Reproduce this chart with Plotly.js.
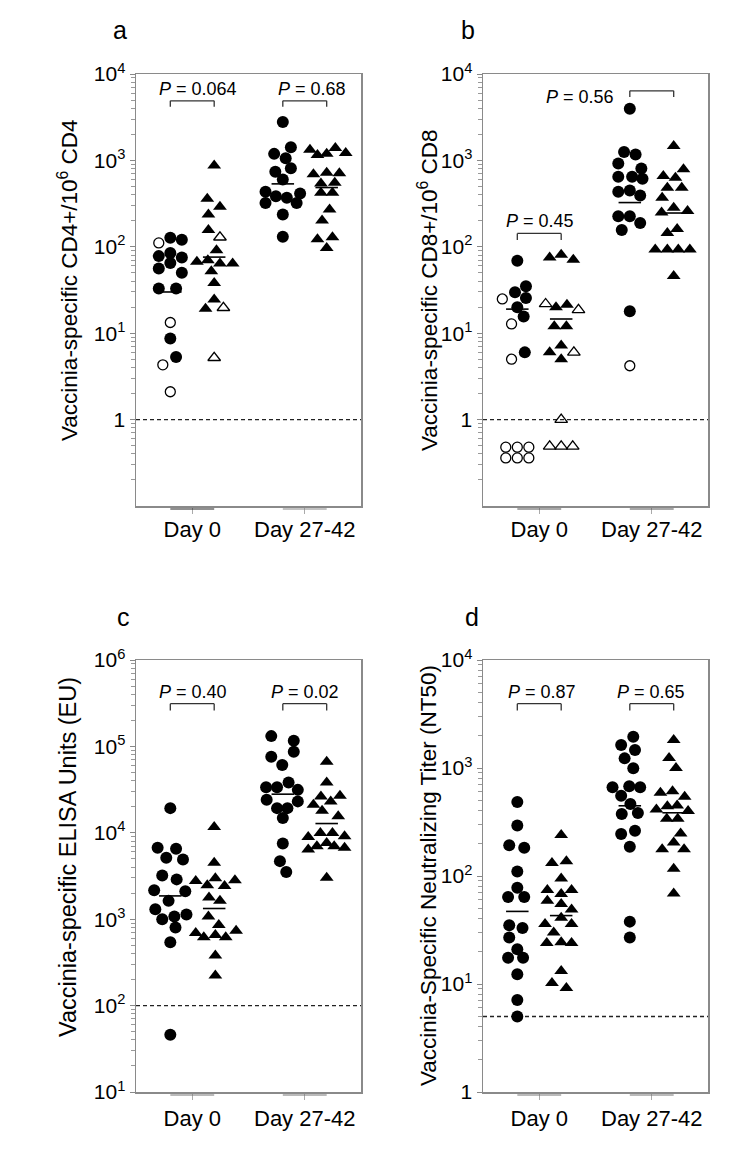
<!DOCTYPE html>
<html><head><meta charset="utf-8">
<script src="https://cdn.plot.ly/plotly-3.0.1.min.js"></script>
<style>html,body{margin:0;padding:0;background:#fff}</style>
</head><body><div id="chart" style="width:750px;height:1162px"></div>
<script>
// ---------------- DATA ----------------
const groupLabels = ['Day 0', 'Day 27-42'];

// Panel a : CD4
const a_d0_circ      = [111,127,121,78,85,75,65,56,50,33,33,13.3,8.7,5.3,4.3,2.1];
const a_d0_circ_open = [1,0,0,0,0,0,0,0,0,0,0,1,0,0,1,1];
const a_d0_circ_jit  = [-1,0,1,-1,0,1,0,-1,1,-1,0.5,0,0,0.5,-0.65,0];
const a_d0_tri       = [871,359,290,236,156,129,91,67,70,64,64,52,38,24.6,19.2,19.7,5.2];
const a_d0_tri_open  = [0,0,0,0,0,1,0,0,0,0,0,0,0,0,0,1,1];
const a_d0_tri_jit   = [0,-0.6,0.5,-0.5,-0.5,0.5,0.2,-1.5,-0.55,0.5,1.6,-0.25,0,0,-0.75,0.8,0];
const a_d27_circ     = [2780,1420,1190,1060,810,740,600,433,414,385,370,322,322,237,131];
const a_d27_circ_open= [0,0,0,0,0,0,0,0,0,0,0,0,0,0,0];
const a_d27_circ_jit = [0,0.7,-0.75,0.25,0.7,-0.65,0,-1.5,1.5,-0.6,0.35,-1.5,1.2,0,0];
const a_d27_tri      = [1325,1157,1190,1390,1215,690,720,708,540,551,421,421,270,202,122,129,97];
const a_d27_tri_open = [0,0,0,0,0,0,0,0,0,0,0,0,0,0,0,0,0];
const a_d27_tri_jit  = [-1.45,-0.8,0,0.75,1.65,-1.15,0,1.1,-0.5,0.7,-0.5,0.5,0.25,-0.4,-0.8,0.5,0];
const a_medians      = [30, 76, 535, 485];   // d0 circ, d0 tri, d27 circ, d27 tri
const a_threshold    = 1;
const a_pvals        = ['0.064', '0.68'];

// Panel b : CD8
const b_d0_circ      = [69,35,29.7,25.5,24.9,20,15.6,12.8,6.0,5.0,0.48,0.48,0.48,0.36,0.36,0.36];
const b_d0_circ_open = [0,0,0,0,1,0,0,1,0,1,1,1,1,1,1,1];
const b_d0_circ_jit  = [0,0.75,-0.2,0.75,-1.3,0,0.55,-0.5,0.65,-0.5,-1,0,1,-1,0,1];
const b_d0_tri       = [75,81,71,21.8,20,21.4,18.6,12,12,6.0,7.2,5.0,6.0,1.0,0.49,0.49,0.49];
const b_d0_tri_open  = [0,0,0,1,0,0,1,0,0,0,0,0,1,1,1,1,1];
const b_d0_tri_jit   = [-1,0,1.05,-1.35,-0.45,0.5,1.5,-0.6,0.45,-1,0,0,1.1,0,-1,0,1];
const b_d27_circ     = [3960,1250,1172,922,807,646,646,612,433,449,393,226,226,189,156,17.9,4.2];
const b_d27_circ_open= [0,0,0,0,0,0,0,0,0,0,0,0,0,0,0,0,1];
const b_d27_circ_jit = [0,-0.5,0.5,-1,1,-1,0.2,1.1,-1,0,0.9,-1,0,0.9,-0.7,0,0];
const b_d27_tri      = [1466,790,662,628,482,482,370,284,260,249,161,144,93,93,93,93,46];
const b_d27_tri_open = [0,0,0,0,0,0,0,0,0,0,0,0,0,0,0,0,0];
const b_d27_tri_jit  = [0,0.85,-0.9,0.15,-0.55,0.7,-1,0,1.2,-1.05,0.3,-0.55,-1.6,-0.55,0.4,1.4,0];
const b_medians      = [19, 14.6, 325, 246];
const b_threshold    = 1;
const b_pvals        = ['0.45', '0.56'];

// Panel c : ELISA
const c_d0_circ      = [19300,6700,6530,5140,4910,3210,2890,2160,2100,1630,1306,1075,1133,1000,803,540,46];
const c_d0_circ_open = [0,0,0,0,0,0,0,0,0,0,0,0,0,0,0,0,0];
const c_d0_circ_jit  = [0,-1.1,0.5,-0.35,1.1,-0.7,0.55,-1.4,1.3,-0.15,-1.3,0.35,1.4,-0.7,0.45,0,0];
const c_d0_tri       = [11700,4500,2770,2470,2970,2420,2820,1780,1630,1075,855,692,617,655,617,735,379,223];
const c_d0_tri_open  = [0,0,0,0,0,0,0,0,0,0,0,0,0,0,0,0,0,0];
const c_d0_tri_jit   = [0,0,-1.6,-0.6,0.1,0.9,1.8,-0.45,0.5,-0.5,0.4,-1.6,-0.9,0.1,1.0,1.9,0.1,0.1];
const c_d27_circ     = [131500,116000,86800,76000,61000,33700,33700,38100,31400,24100,23100,19300,19300,14800,7500,4700,3510];
const c_d27_circ_open= [0,0,0,0,0,0,0,0,0,0,0,0,0,0,0,0,0];
const c_d27_circ_jit = [-1,0.95,0.95,-1,-0.05,-1.45,-0.5,0.5,1.3,-1.4,1.3,-0.5,0.4,0,0,-0.25,0.3];
const c_d27_tri      = [66500,38100,26300,26800,21100,23000,18000,15500,8960,9950,9950,9120,7000,7640,7000,6400,6700,3020];
const c_d27_tri_open = [0,0,0,0,0,0,0,0,0,0,0,0,0,0,0,0,0,0];
const c_d27_tri_jit  = [0,0,-0.5,1.15,-1.15,0.35,-0.4,1.0,-1.6,-0.55,0.5,1.55,-0.85,0,0.65,-1.6,1.55,0];
const c_medians      = [1860, 1330, 28000, 12800];
const c_threshold    = 100;
const c_pvals        = ['0.40', '0.02'];

// Panel d : Neutralizing titer
const d_d0_circ      = [485,293,193,183,110,78,64,64,35,33,27,21,17.5,17.5,12.3,7.1,5];
const d_d0_circ_open = [0,0,0,0,0,0,0,0,0,0,0,0,0,0,0,0,0];
const d_d0_circ_jit  = [0,0,-0.7,0.6,0,0,-0.8,0.6,-0.7,0.45,-0.7,0,-0.8,0.5,0,0,0];
const d_d0_tri       = [240,132,137,95,74,68,74,59,55,49,41,36,36,30,24,24.3,24,13.2,10.2,9.2];
const d_d0_tri_open  = [0,0,0,0,0,0,0,0,0,0,0,0,0,0,0,0,0,0,0,0];
const d_d0_tri_jit   = [0,-0.8,0.45,0,-1.2,0,0.9,-1.2,0,0.9,0,-1.4,0.9,-0.65,-1.25,0,0.9,0,-0.8,0.45];
const d_d27_circ     = [1950,1630,1468,1228,993,662,677,662,554,464,375,383,245,263,187,37.8,27];
const d_d27_circ_open= [0,0,0,0,0,0,0,0,0,0,0,0,0,0,0,0,0];
const d_d27_circ_jit = [0.3,-0.75,0.45,-0.45,0.3,-1.5,-0.05,0.9,-0.75,0.05,-0.7,0.7,-0.75,0.45,0,0,0];
const d_d27_tri      = [1820,1237,1000,589,610,541,413,443,450,399,339,339,248,177,204,177,117,69];
const d_d27_tri_open = [0,0,0,0,0,0,0,0,0,0,0,0,0,0,0,0,0,0];
const d_d27_tri_jit  = [0,-0.4,0.2,-1.15,-0.1,0.95,-1.5,-0.55,0.3,1.25,-0.6,0.35,0.6,-1.0,0,0.9,0,0];
const d_medians      = [47, 43, 447, 385];
const d_threshold    = 5;
const d_pvals        = ['0.87', '0.65'];

// ---------------- LAYOUT / DRAWING ----------------
const W = 750, H = 1162;
const FONT = 'Arial, "Liberation Sans", Helvetica, sans-serif';
const centers = [1, 3];          // group centres on x axis (range 0..4)
const OFF = 0.39, COL = 0.205, HALF = 0.2;

const panels = [
  {letter:'a', n:'', title:'Vaccinia-specific CD4+/10<sup>6</sup> CD4', box:[136,361,74,506], yr:[-1,4],
   series:[[a_d0_circ,a_d0_circ_open,a_d0_circ_jit],[a_d0_tri,a_d0_tri_open,a_d0_tri_jit],
           [a_d27_circ,a_d27_circ_open,a_d27_circ_jit],[a_d27_tri,a_d27_tri_open,a_d27_tri_jit]],
   med:a_medians, thr:a_threshold, pv:a_pvals,
   ptxt:[[1.11,0.966],[3.12,0.966]], brk:[[0.938,0.924],[0.938,0.924]],
   ttl:[68,280], tsize:22.5, let:[120,30], segc:['#222','#888'], lbl:-3},
  {letter:'b', n:'2', title:'Vaccinia-specific CD8+/10<sup>6</sup> CD8', box:[483,708,74,506], yr:[-1,4],
   series:[[b_d0_circ,b_d0_circ_open,b_d0_circ_jit],[b_d0_tri,b_d0_tri_open,b_d0_tri_jit],
           [b_d27_circ,b_d27_circ_open,b_d27_circ_jit],[b_d27_tri,b_d27_tri_open,b_d27_tri_jit]],
   med:b_medians, thr:b_threshold, pv:b_pvals,
   ptxt:[[1.01,0.66],[1.72,0.947]], brk:[[0.631,0.616],[0.961,0.947]],
   ttl:[428,290], tsize:22.5, let:[468,30], segc:['#555','#555'], lbl:-3},
  {letter:'c', n:'3', title:'Vaccinia-specific ELISA Units (EU)', box:[136,361,660,1092], yr:[1,6],
   series:[[c_d0_circ,c_d0_circ_open,c_d0_circ_jit],[c_d0_tri,c_d0_tri_open,c_d0_tri_jit],
           [c_d27_circ,c_d27_circ_open,c_d27_circ_jit],[c_d27_tri,c_d27_tri_open,c_d27_tri_jit]],
   med:c_medians, thr:c_threshold, pv:c_pvals,
   ptxt:[[1.01,0.927],[3.0,0.927]], brk:[[0.899,0.883],[0.899,0.883]],
   ttl:[68,857], tsize:23.5, let:[123,617], segc:['#777','#777'], lbl:0},
  {letter:'d', n:'4', title:'Vaccinia-Specific Neutralizing Titer (NT50)', box:[483,708,660,1092], yr:[0,4],
   series:[[d_d0_circ,d_d0_circ_open,d_d0_circ_jit],[d_d0_tri,d_d0_tri_open,d_d0_tri_jit],
           [d_d27_circ,d_d27_circ_open,d_d27_circ_jit],[d_d27_tri,d_d27_tri_open,d_d27_tri_jit]],
   med:d_medians, thr:d_threshold, pv:d_pvals,
   ptxt:[[1.04,0.927],[2.99,0.927]], brk:[[0.899,0.883],[0.899,0.883]],
   ttl:[428,876], tsize:22.5, let:[472,617], segc:['#777','#777'], lbl:0}
];

const traces = [], shapes = [], annotations = [];
const layout = {
  width: W, height: H, margin:{l:0,r:0,t:0,b:0}, showlegend:false,
  paper_bgcolor:'#fff', plot_bgcolor:'#fff', font:{family:FONT, color:'#000'}
};

function tickText(v){ const e = Math.round(Math.log10(v)); return e === 0 ? '1' : '10<sup>' + e + '</sup>'; }

panels.forEach(p => {
  const xa = 'x' + p.n, ya = 'y' + p.n;
  const xk = 'xaxis' + p.n, yk = 'yaxis' + p.n;
  const [L, R, T, B] = p.box;
  const majorVals = [], minors = [];
  for (let e = Math.max(0, Math.ceil(p.yr[0])); e <= p.yr[1]; e++) majorVals.push(Math.pow(10, e));
  for (let e = Math.floor(p.yr[0]); e < p.yr[1]; e++)
    for (let k = 2; k <= 9; k++) minors.push(k * Math.pow(10, e));

  layout[xk] = {
    domain:[L / W, R / W], anchor: ya, range:[0, 4], fixedrange:true,
    showline:true, mirror:true, linecolor:'#8a8a8a', linewidth:1.5,
    showgrid:false, zeroline:false,
    tickmode:'array', tickvals:centers, ticktext:groupLabels,
    ticks:'outside', ticklen:6, tickcolor:'#aaa', tickwidth:1,
    ticklabelstandoff:p.lbl,
    tickfont:{size:22, family:FONT, color:'#000'}
  };
  layout[yk] = {
    domain:[(H - B) / H, (H - T) / H], anchor: xa, type:'log', range:p.yr, fixedrange:true,
    showline:true, mirror:true, linecolor:'#8a8a8a', linewidth:1.5,
    showgrid:false, zeroline:false,
    tickmode:'array', tickvals:majorVals, ticktext:majorVals.map(tickText),
    ticks:'outside', ticklen:5, tickcolor:'#888', tickwidth:1,
    tickfont:{size:21, family:FONT, color:'#000'},
    minor:{tickmode:'array', tickvals:minors, ticks:'outside', ticklen:4, tickcolor:'#999', tickwidth:1, showgrid:false}
  };

  // threshold dashed line
  traces.push({x:[0, 4], y:[p.thr, p.thr], xaxis:xa, yaxis:ya, mode:'lines', hoverinfo:'skip',
               line:{color:'#222', width:1.3, dash:'4px,3px'}});

  // points
  p.series.forEach((s, i) => {
    const [vals, open, jit] = s;
    const g = centers[i >> 1];
    const base = g + (i % 2 === 0 ? -OFF : OFF);
    const isCirc = (i % 2 === 0);
    const fx = [], fy = [], ox = [], oy = [];
    vals.forEach((v, k) => {
      const x = base + jit[k] * COL;
      if (open[k]) { ox.push(x); oy.push(v); } else { fx.push(x); fy.push(v); }
    });
    traces.push({x:fx, y:fy, xaxis:xa, yaxis:ya, mode:'markers', hoverinfo:'y',
      marker:{symbol: isCirc ? 'circle' : 'triangle-up', size: 12, color:'#000', line:{width:0}}});
    if (ox.length) traces.push({x:ox, y:oy, xaxis:xa, yaxis:ya, mode:'markers', hoverinfo:'y',
      marker:{symbol: isCirc ? 'circle-open' : 'triangle-up-open', size: isCirc ? 10 : 11, color:'#000', line:{width:1.3, color:'#000'}}});
  });

  // median lines
  const mx = [], my = [];
  p.med.forEach((m, i) => {
    const g = centers[i >> 1];
    const base = g + (i % 2 === 0 ? -OFF : OFF);
    mx.push(base - HALF, base + HALF, null); my.push(m, m, null);
  });
  traces.push({x:mx, y:my, xaxis:xa, yaxis:ya, mode:'lines', hoverinfo:'skip', line:{color:'#000', width:1.6}});

  // brackets, P values, segments below axis
  centers.forEach((g, j) => {
    const x0 = g - OFF, x1 = g + OFF;
    const [yt, yl] = p.brk[j];
    const ld = {color:'#333', width:1.3};
    shapes.push({type:'line', xref:xa, yref:ya + ' domain', x0:x0, x1:x1, y0:yt, y1:yt, line:ld});
    shapes.push({type:'line', xref:xa, yref:ya + ' domain', x0:x0, x1:x0, y0:yt, y1:yl, line:ld});
    shapes.push({type:'line', xref:xa, yref:ya + ' domain', x0:x1, x1:x1, y0:yt, y1:yl, line:ld});
    shapes.push({type:'line', xref:xa, yref:ya + ' domain', x0:x0, x1:x1, y0:-0.007, y1:-0.007,
                 line:{color:p.segc[j], width:1.2}});
    annotations.push({xref:xa, yref:ya + ' domain', x:p.ptxt[j][0], y:p.ptxt[j][1],
      text:'<i>P</i> = ' + p.pv[j], showarrow:false, xanchor:'center', yanchor:'middle',
      font:{size:18, family:FONT, color:'#000'}});
  });

  // y-axis title
  annotations.push({xref:'paper', yref:'paper', x:p.ttl[0] / W, y:(H - p.ttl[1]) / H,
    text:p.title, textangle:-90, showarrow:false, xanchor:'center', yanchor:'middle',
    font:{size:p.tsize, family:FONT, color:'#000'}});
  // panel letter
  annotations.push({xref:'paper', yref:'paper', x:p.let[0] / W, y:(H - p.let[1]) / H,
    text:p.letter, showarrow:false, xanchor:'center', yanchor:'middle',
    font:{size:25, family:FONT, color:'#000'}});
});

layout.shapes = shapes;
layout.annotations = annotations;
Plotly.newPlot('chart', traces, layout, {displayModeBar:false, staticPlot:true});
</script>
</body></html>
